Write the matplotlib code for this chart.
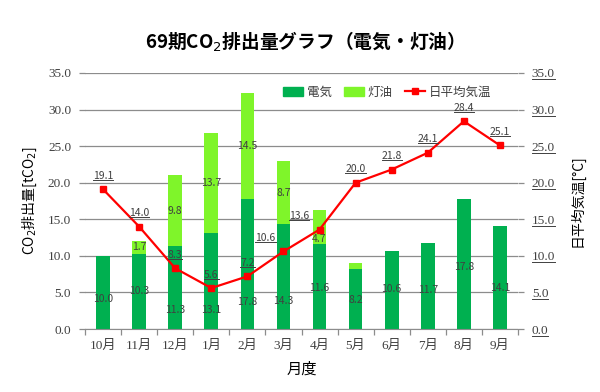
import matplotlib
matplotlib.use("Agg")
import matplotlib.pyplot as plt
import numpy as np
from matplotlib.lines import Line2D
from matplotlib.patches import Patch

months = ["10月", "11月", "12月", "1月", "2月", "3月", "4月", "5月", "6月", "7月", "8月", "9月"]
electric = [10.0, 10.3, 11.3, 13.1, 17.8, 14.3, 11.6, 8.2, 10.6, 11.7, 17.8, 14.1]
kerosene = [0.0, 1.7, 9.8, 13.7, 14.5, 8.7, 4.7, 0.8, 0.0, 0.0, 0.0, 0.0]
temperature = [19.1, 14.0, 8.3, 5.6, 7.2, 10.6, 13.6, 20.0, 21.8, 24.1, 28.4, 25.1]
yticks = [0, 5, 10, 15, 20, 25, 30, 35]

# layout: vertical shift of electric labels (fraction of segment height from bottom)
elec_label_frac = [0.41, 0.50, 0.23, 0.20, 0.21, 0.27, 0.48, 0.48, 0.51, 0.46, 0.48, 0.40]
temp_label_dx = [0, 0, 0, 0, 0, -13, -15, 0, 0, 0, 0, 0]

JP = ["Noto Sans CJK JP", "DejaVu Sans"]
NUM = ["Liberation Serif", "Noto Sans CJK JP"]
plt.rcParams["font.family"] = JP

C_ELEC = "#00B050"
C_KERO = "#7FF52A"
C_TEMP = "#FF0000"
C_TXT = "#404040"
C_GRID = "#8C8C8C"

fig = plt.figure(figsize=(6.0, 3.92), dpi=100)
ax = fig.add_axes([0.1417, 0.1607, 0.7216, 0.6531])
ax2 = ax.twinx()

x = np.arange(len(months))
w = 0.38
ax.bar(x, electric, width=w, color=C_ELEC, zorder=2)
ax.bar(x, kerosene, width=w, bottom=electric, color=C_KERO, zorder=2)

for i in range(len(months)):
    ax.text(x[i], electric[i] * elec_label_frac[i], f"{electric[i]:.1f}", ha="center", va="center",
            fontsize=7.5, color=C_TXT, family=JP, zorder=5)
    if kerosene[i] >= 1.0:
        yk = electric[i] + kerosene[i] / 2
        if i == 6:
            yk = electric[i] + kerosene[i] * 0.15
        ax.text(x[i], yk, f"{kerosene[i]:.1f}", ha="center", va="center",
                fontsize=7.5, color=C_TXT, family=JP, zorder=5)

ax.set_ylim(0, 35)
ax.set_xlim(-0.5, len(months) - 0.5)
ax.set_yticks(yticks)
ax.set_yticklabels([f"{v:.1f}" for v in yticks], family=NUM, fontsize=9.5, color=C_TXT)
ax.yaxis.grid(True, color=C_GRID, lw=0.9, zorder=0)
ax.set_axisbelow(True)
ax.set_xticks(x)
ax.set_xticklabels(months, family=NUM, fontsize=9.5, color=C_TXT)
ax.tick_params(axis="x", length=0, pad=8)
ax.set_xticks(np.arange(-0.5, len(months), 1.0), minor=True)
ax.tick_params(axis="x", which="minor", length=4, color=C_GRID, width=0.9)
ax.tick_params(axis="y", length=4, color=C_GRID, width=0.9, pad=6)
for s in ["top", "left", "right"]:
    ax.spines[s].set_visible(False)
    ax2.spines[s].set_visible(False)
ax.spines["bottom"].set_color(C_GRID)
ax2.spines["bottom"].set_visible(False)

ax2.plot(x, temperature, color=C_TEMP, lw=1.6, marker="s", markersize=5, zorder=4)
ax2.set_ylim(0, 35)
ax2.set_yticks(yticks)
ax2.set_yticklabels([f"{v:.1f}" for v in yticks], family=NUM, fontsize=9.5, color=C_TXT)
ax2.tick_params(axis="y", length=4, color=C_GRID, width=0.9, pad=6)
temp_texts = []
for i in range(len(months)):
    t = ax2.annotate(f"{temperature[i]:.1f}", (x[i], temperature[i]), xytext=(temp_label_dx[i], 6),
                     textcoords="offset points", ha="center", va="bottom", fontsize=7.5,
                     color=C_TXT, family=JP, zorder=6)
    temp_texts.append(t)

ax.set_ylabel("CO$_2$排出量[tCO$_2$]", fontsize=10, color="#000000", labelpad=6)
ax2.set_ylabel("日平均気温[°C]", fontsize=10, color="#000000", labelpad=10)
ax.set_xlabel("月度", fontsize=11, color="#000000", labelpad=6)

fig.text(0.5, 0.893, "69期CO$_2$排出量グラフ（電気・灯油）", ha="center", va="center",
         fontsize=13.5, fontweight="bold")

handles = [Patch(color=C_ELEC), Patch(color=C_KERO),
           Line2D([0], [0], color=C_TEMP, lw=1.6, marker="s", markersize=5)]
leg = ax2.legend(handles, ["電気", "灯油", "日平均気温"], loc="upper right",
                 bbox_to_anchor=(0.965, 0.995), ncol=3, frameon=False, fontsize=9,
                 handlelength=1.6, handletextpad=0.3, columnspacing=1.0)
for t in leg.get_texts():
    t.set_color(C_TXT)

# underline temperature labels and right-axis tick labels (as in the reference)
fig.canvas.draw()
renderer = fig.canvas.get_renderer()
H = fig.bbox.height
W = fig.bbox.width
for t in temp_texts + list(ax2.get_yticklabels()):
    bb = t.get_window_extent(renderer)
    yb = bb.y0 + 1.0
    fig.add_artist(Line2D([bb.x0 / W, bb.x1 / W], [yb / H, yb / H], color=C_TXT, lw=0.7,
                          transform=fig.transFigure))

fig.savefig("out.png", dpi=100, facecolor="white")
